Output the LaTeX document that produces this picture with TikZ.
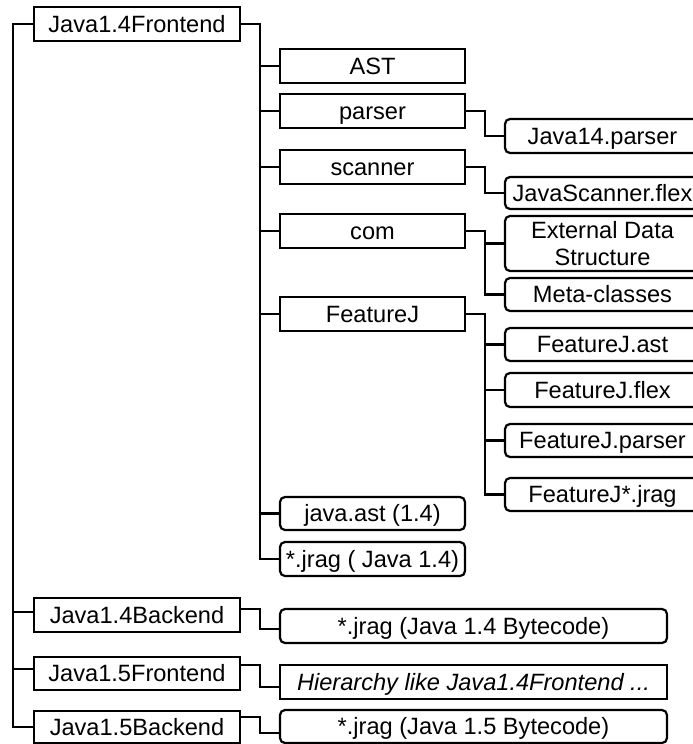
\documentclass[tikz,border=0pt]{standalone}
\usepackage{fontspec}
\setmainfont{Liberation Sans}
\usetikzlibrary{calc}
\begin{document}
\begin{tikzpicture}[x=1pt,y=-1pt,
  base/.style={draw, line width=2.2pt, inner sep=0pt,
    font=\fontsize{23.6}{27.5}\selectfont, minimum height=34pt},
  sq/.style={base, text height=16.9pt, text depth=0pt},
  rd/.style={sq, rounded corners=5pt},
  colL/.style={minimum width=206pt},
  colM/.style={minimum width=185pt},
  colR/.style={minimum width=195pt},
  colB/.style={minimum width=387pt},
  wire/.style={line width=2.2pt}]
\useasboundingbox (0,0) rectangle (693,744);
\clip (0,0) rectangle (693,744);

% top-level packages
\node[sq, colL] (j14f) at (137,24) {Java1.4Frontend};
\node[sq, colL] (j14b) at (137,615) {Java1.4Backend};
\node[sq, colL, minimum height=33pt] (j15f) at (137,673.5) {Java1.5Frontend};
\node[sq, colL, minimum height=32pt] (j15b) at (137,727) {Java1.5Backend};

% contents of Java1.4Frontend
\node[sq, colM] (ast) at (372.5,66) {AST};
\node[sq, colM] (parser) at (372.5,111) {parser};
\node[sq, colM] (scanner) at (372.5,167) {scanner};
\node[sq, colM] (com) at (372.5,231) {com};
\node[sq, colM] (featj) at (372.5,314) {FeatureJ};
\node[rd, colM, minimum height=33pt] (javaast) at (372.5,513.5) {java.ast (1.4)};
\node[rd, colM] (jrag14) at (372.5,559) {*.jrag ( Java 1.4)};

% files inside the sub-packages
\node[rd, colR] (j14parser) at (602.5,136) {Java14.parser};
\node[rd, colR, minimum height=32pt] (jscan) at (602.5,193) {JavaScanner.flex};
\node[base, colR, rounded corners=5pt, align=center, minimum height=55pt] (extds) at (602.5,243.5) {External Data\\Structure};
\node[rd, colR, minimum height=33pt] (meta) at (602.5,294.5) {Meta-classes};
\node[rd, colR, minimum height=33pt] (fjast) at (602.5,344.5) {FeatureJ.ast};
\node[rd, colR] (fjflex) at (602.5,390) {FeatureJ.flex};
\node[rd, colR, minimum height=33pt] (fjparser) at (602.5,440.5) {FeatureJ.parser};
\node[rd, colR, minimum height=33pt] (fjjrag) at (602.5,494.5) {FeatureJ*.jrag};

% contents of the other packages
\node[rd, colB] (bc14) at (473.5,626) {*.jrag (Java 1.4 Bytecode)};
\node[sq, colB] (hier) at (473.5,682) {\itshape Hierarchy like Java1.4Frontend ...};
\node[rd, colB, minimum height=33pt] (bc15) at (473.5,726.5) {*.jrag (Java 1.5 Bytecode)};

% root trunk
\draw[wire] (j14f.west) -- ++(-20,0) |- ($(j14b.west)+(0,-3)$);
\draw[wire] (j14f.west) -- ++(-20,0) |- ($(j15f.west)+(0,-4.5)$);
\draw[wire] (j14f.west) -- ++(-20,0) |- (j15b.west);

% Java1.4Frontend trunk
\foreach \c in {ast,parser,scanner,com,featj,javaast,jrag14}
  \draw[wire] (j14f.east) -- ++(19,0) |- (\c.west);

% sub-package links
\draw[wire] (parser.east) -- ++(19,0) |- (j14parser.west);
\draw[wire] (scanner.east) -- ++(19,0) |- (jscan.west);
\foreach \c in {extds,meta}
  \draw[wire] (com.east) -- ++(19,0) |- (\c.west);
\foreach \c in {fjast,fjflex,fjparser,fjjrag}
  \draw[wire] (featj.east) -- ++(19,0) |- (\c.west);

% other packages
\draw[wire] ($(j14b.east)+(0,-6)$) -- ++(19,0) |- ($(bc14.west)+(0,3)$);
\draw[wire] ($(j15f.east)+(0,-8.5)$) -- ++(19,0) |- ($(hier.west)+(0,5)$);
\draw[wire] ($(j15b.east)+(0,-10)$) -- ++(19,0) |- ($(bc15.west)+(0,6.5)$);
\end{tikzpicture}
\end{document}
